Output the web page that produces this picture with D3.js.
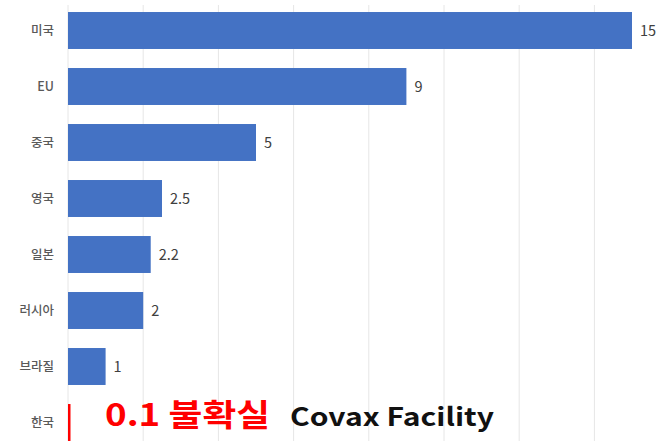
<!DOCTYPE html>
<html>
<head>
<meta charset="utf-8">
<script src="https://cdn.jsdelivr.net/npm/d3@7"></script>
<style>
  body { margin: 0; background: #fff; }
  svg { display: block; font-family: "Noto Sans CJK KR", "Noto Sans", sans-serif; }
</style>
</head>
<body>
<svg id="chart"></svg>
<script>
const countries = ['미국', 'EU', '중국', '영국', '일본', '러시아', '브라질', '한국'];
const values = [15, 9, 5, 2.5, 2.2, 2, 1, 0.1];
const valueLabels = ['15', '9', '5', '2.5', '2.2', '2', '1', '0.1 불확실'];
const gridTicks = [0, 2, 4, 6, 8, 10, 12, 14, 16];

const width = 659, height = 441;
const svg = d3.select('#chart').attr('width', width).attr('height', height);

// SCALES
const x = d3.scaleLinear().domain([0, 16]).range([68, 669.6]);
const y = d3.scaleBand().domain(countries).range([2.5, 450.5])
  .paddingInner(0.34).paddingOuter(0.17);

// GRIDLINES
svg.append('g')
  .selectAll('line')
  .data(gridTicks)
  .join('line')
  .attr('x1', d => x(d)).attr('x2', d => x(d))
  .attr('y1', 5).attr('y2', height)
  .attr('stroke', '#e6e6e6')
  .attr('stroke-width', 1);

// CATEGORY LABELS
svg.append('g')
  .selectAll('text')
  .data(countries)
  .join('text')
  .attr('x', 54)
  .attr('y', d => y(d) + y.bandwidth() / 2)
  .attr('dy', '0.35em')
  .attr('text-anchor', 'end')
  .attr('font-size', 12.5)
  .attr('font-weight', 500)
  .attr('fill', '#595959')
  .text(d => d);

const rows = countries.map((c, i) => ({ c, v: values[i], label: valueLabels[i] }));

// BARS (the 0.1 bar is drawn as a thin red marker)
svg.append('g')
  .selectAll('rect')
  .data(rows)
  .join('rect')
  .attr('x', x(0))
  .attr('y', d => y(d.c))
  .attr('width', d => d.c === '한국' ? 2.5 : x(d.v) - x(0))
  .attr('height', y.bandwidth())
  .attr('fill', d => d.c === '한국' ? '#ff0000' : '#4472C4');

// VALUE LABELS
svg.append('g')
  .selectAll('text')
  .data(rows.filter(d => d.c !== '한국'))
  .join('text')
  .attr('x', d => x(d.v) + 8)
  .attr('y', d => y(d.c) + y.bandwidth() / 2)
  .attr('dy', '0.35em')
  .attr('font-size', 14.5)
  .attr('fill', '#404040')
  .text(d => d.label);

// KOREA NOTE
const kr = rows[rows.length - 1];
svg.append('text')
  .attr('x', 105)
  .attr('y', 426)
  .attr('font-weight', 'bold')
  .attr('font-size', 31)
  .attr('fill', '#ff0000')
  .attr('textLength', 165)
  .attr('lengthAdjust', 'spacingAndGlyphs')
  .text(kr.label);
svg.append('text')
  .attr('x', 290)
  .attr('y', 426)
  .attr('font-weight', 'bold')
  .attr('font-size', 25)
  .attr('fill', '#111')
  .attr('textLength', 204)
  .attr('lengthAdjust', 'spacingAndGlyphs')
  .text('Covax Facility');
</script>
</body>
</html>
